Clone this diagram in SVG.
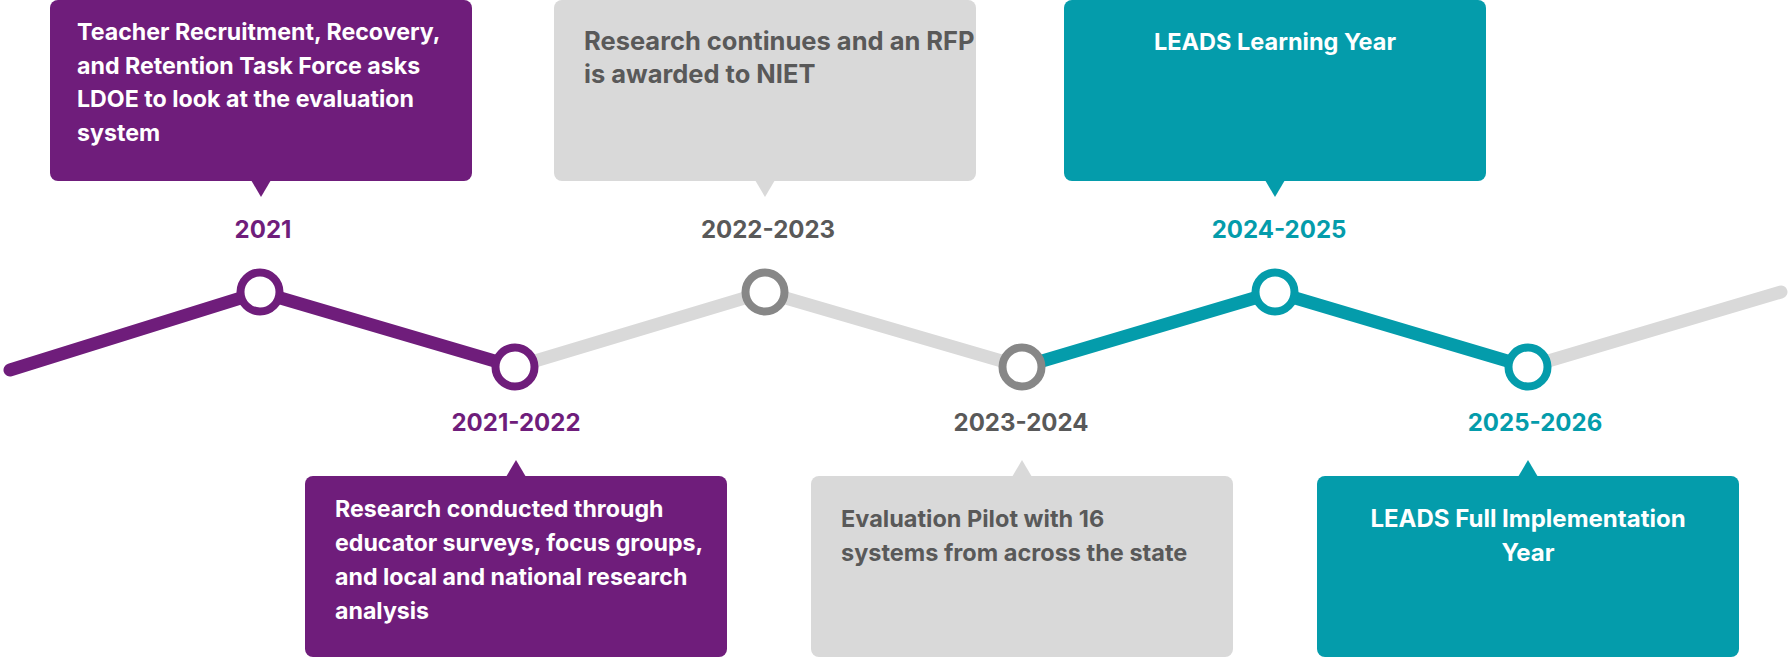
<svg xmlns="http://www.w3.org/2000/svg" width="1789" height="657" viewBox="0 0 1789 657">
<style>
.body{font-family:Inter,Roboto,"Liberation Sans",sans-serif;font-weight:700;font-size:23.2px}
.yr{font-family:Inter,Roboto,"Liberation Sans",sans-serif;font-weight:700;font-size:24px;text-anchor:middle}
.w{fill:#ffffff}
.g{fill:#595959}
.pf{fill:#6f1d7b}
.gf{fill:#d9d9d9}
.tf{fill:#049cab}
.seg{fill:none;stroke-width:13;stroke-linecap:round;stroke-linejoin:round}
.dot{fill:#ffffff;stroke-width:8}
</style>
<rect width="1789" height="657" fill="#ffffff"/>
<g id="connectors">
<polyline class="seg" stroke="#6f1d7b" points="10,370 260,292 515,367"/>
<polyline class="seg" stroke="#d9d9d9" points="515,367 765,292 1022,367"/>
<polyline class="seg" stroke="#049cab" points="1022,367 1275,292 1528,367"/>
<polyline class="seg" stroke="#d9d9d9" points="1528,367 1781,292"/>
</g>
<g id="n2021">
<rect class="pf" x="50" y="0" width="422" height="181" rx="8"/>
<polygon class="pf" points="251,180 271,180 261,197"/>
<text class="body w"><tspan x="77" y="40">Teacher Recruitment, Recovery,</tspan><tspan x="77" y="73.5">and Retention Task Force asks</tspan><tspan x="77" y="107">LDOE to look at the evaluation</tspan><tspan x="77" y="140.5">system</tspan></text>
<text class="yr pf" x="263" y="238">2021</text>
<circle class="dot" stroke="#6f1d7b" cx="260" cy="292" r="19.5"/>
</g>
<g id="n2021-2022">
<rect class="pf" x="305" y="476" width="422" height="181" rx="8"/>
<polygon class="pf" points="506,477 526,477 516,460"/>
<text class="body w"><tspan x="335" y="517">Research conducted through</tspan><tspan x="335" y="551">educator surveys, focus groups,</tspan><tspan x="335" y="585">and local and national research</tspan><tspan x="335" y="619">analysis</tspan></text>
<text class="yr pf" x="516" y="431">2021-2022</text>
<circle class="dot" stroke="#6f1d7b" cx="515" cy="367" r="19.5"/>
</g>
<g id="n2022-2023">
<rect class="gf" x="554" y="0" width="422" height="181" rx="8"/>
<polygon class="gf" points="755,180 775,180 765,197"/>
<text class="body g" style="font-size:25.5px"><tspan x="584" y="50">Research continues and an RFP</tspan><tspan x="584" y="83">is awarded to NIET</tspan></text>
<text class="yr g" x="768" y="238">2022-2023</text>
<circle class="dot" stroke="#878787" cx="765" cy="292" r="19.5"/>
</g>
<g id="n2023-2024">
<rect class="gf" x="811" y="476" width="422" height="181" rx="8"/>
<polygon class="gf" points="1012,477 1032,477 1022,460"/>
<text class="body g" style="font-size:23.5px"><tspan x="841" y="527">Evaluation Pilot with 16</tspan><tspan x="841" y="561">systems from across the state</tspan></text>
<text class="yr g" x="1021" y="431">2023-2024</text>
<circle class="dot" stroke="#878787" cx="1022" cy="367" r="19.5"/>
</g>
<g id="n2024-2025">
<rect class="tf" x="1064" y="0" width="422" height="181" rx="8"/>
<polygon class="tf" points="1265,180 1285,180 1275,197"/>
<text class="body w" style="font-size:23.5px" text-anchor="middle" x="1275" y="50">LEADS Learning Year</text>
<text class="yr tf" x="1279" y="238">2024-2025</text>
<circle class="dot" stroke="#049cab" cx="1275" cy="292" r="19.5"/>
</g>
<g id="n2025-2026">
<rect class="tf" x="1317" y="476" width="422" height="181" rx="8"/>
<polygon class="tf" points="1518,477 1538,477 1528,460"/>
<text class="body w" style="font-size:24px" text-anchor="middle"><tspan x="1528" y="527">LEADS Full Implementation</tspan><tspan x="1528" y="561">Year</tspan></text>
<text class="yr tf" x="1535" y="431">2025-2026</text>
<circle class="dot" stroke="#049cab" cx="1528" cy="367" r="19.5"/>
</g>
</svg>
